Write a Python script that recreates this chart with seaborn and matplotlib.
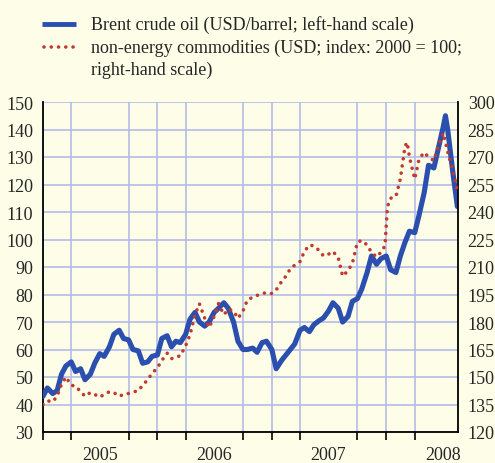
import matplotlib
matplotlib.use("Agg")
import matplotlib.pyplot as plt
import matplotlib.dates as mdates
from matplotlib.lines import Line2D
import seaborn as sns
import pandas as pd
import numpy as np

# ---------------- data ----------------
brent_dates = [
    "2005-01-01", "2005-01-15", "2005-02-01", "2005-02-15", "2005-03-01", "2005-03-15",
    "2005-04-01", "2005-04-15", "2005-05-01", "2005-05-15", "2005-06-01", "2005-06-15",
    "2005-07-01", "2005-07-15", "2005-08-01", "2005-08-15", "2005-09-01", "2005-09-15",
    "2005-10-01", "2005-10-15", "2005-11-01", "2005-11-15", "2005-12-01", "2005-12-15",
    "2006-01-01", "2006-01-15", "2006-02-01", "2006-02-15", "2006-03-01", "2006-03-15",
    "2006-04-01", "2006-04-15", "2006-05-01", "2006-05-15", "2006-06-01", "2006-06-15",
    "2006-07-01", "2006-07-15", "2006-08-01", "2006-08-15", "2006-09-01", "2006-09-15",
    "2006-10-01", "2006-10-15", "2006-11-01", "2006-11-15", "2006-12-01", "2006-12-15",
    "2007-01-01", "2007-01-15", "2007-02-01", "2007-02-15", "2007-03-01", "2007-03-15",
    "2007-04-01", "2007-04-15", "2007-05-01", "2007-05-15", "2007-06-01", "2007-06-15",
    "2007-07-01", "2007-07-15", "2007-08-01", "2007-08-15", "2007-09-01", "2007-09-15",
    "2007-10-01", "2007-10-15", "2007-11-01", "2007-11-15", "2007-12-01", "2007-12-15",
    "2008-01-01", "2008-01-15", "2008-02-01", "2008-02-15", "2008-03-01", "2008-03-15",
    "2008-04-01", "2008-04-15", "2008-05-01", "2008-05-15", "2008-06-01", "2008-06-15",
    "2008-07-01", "2008-07-08", "2008-07-15", "2008-08-01", "2008-08-15",
]
brent_values = [
    43, 46, 44, 45, 51, 54,
    55.5, 52, 53, 49, 51, 55,
    58.5, 57.5, 61, 65.5, 67, 64,
    63.5, 60, 59.5, 55, 55.5, 57.5,
    58, 64, 65, 61, 63, 62.5,
    65.5, 71, 73.5, 70, 68.5, 70,
    73.5, 75, 77, 75, 70, 63,
    60, 60, 60.5, 59, 62.5, 63,
    60, 53, 56, 58, 60, 62,
    67, 68, 66.5, 69, 70.5, 71.5,
    74, 77, 75, 70, 72, 77.5,
    78.5, 82, 88, 94, 91, 93,
    94, 89, 88, 94, 99, 103,
    102.5, 109, 117, 127, 126, 133,
    141, 145, 140, 124, 112,
]

comm_dates = [
    "2005-01-01", "2005-01-15", "2005-02-01", "2005-02-15", "2005-03-01", "2005-03-15",
    "2005-04-01", "2005-04-15", "2005-05-01", "2005-05-15", "2005-06-01", "2005-06-15",
    "2005-07-01", "2005-07-15", "2005-08-01", "2005-08-15", "2005-09-01", "2005-09-15",
    "2005-10-01", "2005-10-15", "2005-11-01", "2005-11-15", "2005-12-01", "2005-12-15",
    "2006-01-01", "2006-01-15", "2006-02-01", "2006-02-15", "2006-03-01", "2006-03-15",
    "2006-04-01", "2006-04-15", "2006-05-01", "2006-05-15", "2006-06-01", "2006-06-15",
    "2006-07-01", "2006-07-15", "2006-08-01", "2006-08-15", "2006-09-01", "2006-09-15",
    "2006-10-01", "2006-10-15", "2006-11-01", "2006-11-15", "2006-12-01", "2006-12-15",
    "2007-01-01", "2007-01-15", "2007-02-01", "2007-02-15", "2007-03-01", "2007-03-15",
    "2007-04-01", "2007-04-15", "2007-05-01", "2007-05-15", "2007-06-01", "2007-06-15",
    "2007-07-01", "2007-07-15", "2007-08-01", "2007-08-15", "2007-09-01", "2007-09-15",
    "2007-10-01", "2007-10-15", "2007-11-01", "2007-11-15", "2007-12-01", "2007-12-15",
    "2007-12-28", "2008-01-05", "2008-01-15", "2008-02-01", "2008-02-15", "2008-03-01",
    "2008-03-08", "2008-03-15", "2008-04-01", "2008-04-15", "2008-05-01", "2008-05-15",
    "2008-06-01", "2008-06-15", "2008-07-01", "2008-07-15", "2008-08-01", "2008-08-15",
]
comm_values = [
    135, 137, 136.5, 139.5, 146, 150,
    145.5, 145, 142, 139.5, 141.5, 140.5,
    139, 140.5, 142, 141.5, 139.5, 140.5,
    141, 141.8, 142.5, 145.5, 148.5, 152,
    155, 159, 163, 160, 161, 161.5,
    167, 173, 184, 190, 182, 177,
    183, 190, 184, 187, 186, 182,
    186, 192, 193.5, 194.5, 195.5, 196,
    195.5, 197.5, 202, 205, 209, 211,
    213, 218.5, 222, 221.5, 219, 216,
    217, 218.5, 215, 205, 208, 212,
    223.5, 224.5, 222, 218, 215.5, 218,
    221.5, 243, 247.5, 248.5, 258, 276,
    278, 270, 258, 269, 272.5, 270,
    268, 276, 283, 273, 262, 252,
]

brent_label = "Brent crude oil (USD/barrel; left-hand scale)"
comm_label_lines = ["non-energy commodities (USD; index: 2000 = 100;",
                    "right-hand scale)"]
year_labels = ["2005", "2006", "2007", "2008"]
left_ticks = list(range(30, 151, 10))
right_ticks = list(range(120, 301, 15))

# ---------------- style ----------------
BG = "#fdfde8"
GRID = "#b3bbe6"
BLUE = "#2b4fae"
RED = "#c03a2f"
FS = 13

sns.set_style("white")
plt.rcParams["font.family"] = ["Liberation Serif", "DejaVu Serif"]
plt.rcParams["font.size"] = FS

brent_df = pd.DataFrame({"date": pd.to_datetime(brent_dates), "value": brent_values})
comm_df = pd.DataFrame({"date": pd.to_datetime(comm_dates), "value": comm_values})

fig = plt.figure(figsize=(4.95, 4.64), dpi=100, facecolor=BG)
ax = fig.add_axes([43 / 495, 31 / 464, 415 / 495, 330 / 464])
ax.set_facecolor(BG)

sns.lineplot(data=brent_df, x="date", y="value", ax=ax, color=BLUE,
             linewidth=3.7, solid_capstyle="round", solid_joinstyle="round",
             zorder=3, legend=False)

ax2 = ax.twinx()
sns.lineplot(data=comm_df, x="date", y="value", ax=ax2, color=RED,
             linewidth=2.6, linestyle=(0, (0.01, 2.0)), dash_capstyle="round",
             zorder=4, legend=False)

x0 = pd.Timestamp("2005-01-01")
x1 = pd.Timestamp("2008-08-17")
ax.set_xlim(x0, x1)
ax.set_ylim(30, 150)
ax2.set_ylim(120, 300)
ax.set_yticks(left_ticks)
ax2.set_yticks(right_ticks)
ax.set_xlabel("")
ax.set_ylabel("")
ax2.set_ylabel("")

# year labels as major ticks at mid-year, quarter ticks/grid as minor ticks
mid_years = [pd.Timestamp(f"{y}-07-01") for y in year_labels]
ax.xaxis.set_major_locator(mdates.MonthLocator(bymonth=[7]))
ax.xaxis.set_major_formatter(mdates.DateFormatter("%Y"))
ax.xaxis.set_minor_locator(mdates.MonthLocator(bymonth=[1, 4, 7, 10]))
ax.tick_params(axis="x", which="major", length=0, pad=10, labelsize=FS)
ax.tick_params(axis="x", which="minor", direction="out", length=6, width=1.2,
               color="black", bottom=True)
ax.tick_params(axis="y", length=0, pad=7, labelsize=FS)
ax2.tick_params(axis="y", length=0, pad=7, labelsize=FS)

ax.grid(False, axis="x", which="major")
ax.grid(True, axis="x", which="minor", color=GRID, linewidth=1.2)
ax.grid(True, axis="y", which="major", color=GRID, linewidth=1.2)
ax.set_axisbelow(True)

for a in (ax, ax2):
    a.spines["top"].set_visible(False)
    for s in ("left", "right", "bottom"):
        a.spines[s].set_color("black")
        a.spines[s].set_linewidth(1.3)
ax2.spines["left"].set_visible(False)
ax2.spines["bottom"].set_visible(False)
ax.spines["right"].set_visible(False)

# ---------------- legend ----------------
W, H = 495, 464
fig.add_artist(Line2D([42 / W, 76 / W], [1 - 25 / H, 1 - 25 / H], color=BLUE,
                      linewidth=3.5, solid_capstyle="butt"))
fig.add_artist(Line2D([44 / W, 76 / W], [1 - 48 / H, 1 - 48 / H], color=RED,
                      linewidth=2.6, linestyle=(0, (0.01, 2.0)),
                      dash_capstyle="round"))
fig.text(91 / W, 1 - 25 / H, brent_label, ha="left", va="center", fontsize=FS)
fig.text(91 / W, 1 - 48 / H, comm_label_lines[0], ha="left", va="center", fontsize=FS)
fig.text(91 / W, 1 - 70 / H, comm_label_lines[1], ha="left", va="center", fontsize=FS)

fig.savefig("out.png", dpi=100, facecolor=BG)
